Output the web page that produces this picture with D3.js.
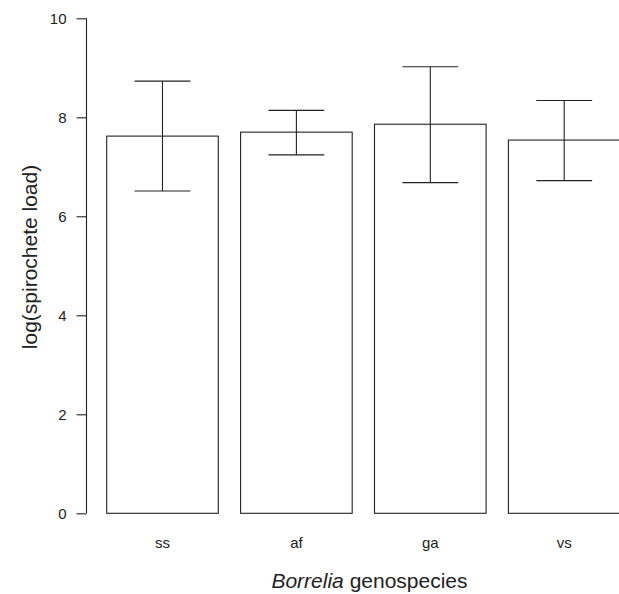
<!DOCTYPE html>
<html>
<head>
<meta charset="utf-8">
<script src="https://cdn.jsdelivr.net/npm/d3@7"></script>
<style>
  body { margin: 0; background: #fff; }
  svg text { font-family: "Liberation Sans", Arial, sans-serif; fill: #222; }
</style>
</head>
<body>
<div id="chart"></div>
<script>
// Spirochete load per Borrelia genospecies (mean with error bars)
const genospecies = ['ss', 'af', 'ga', 'vs'];
const meanLoad = [7.62, 7.70, 7.86, 7.54];
const errLow = [6.51, 7.24, 6.68, 6.72];
const errHigh = [8.73, 8.14, 9.02, 8.34];
const yTicks = [0, 2, 4, 6, 8, 10];

const width = 619, height = 594;

const svg = d3.select('#chart').append('svg')
  .attr('width', width)
  .attr('height', height);

// scales
const x = d3.scaleBand()
  .domain(genospecies)
  .range([106.7, 620])
  .paddingInner(1 / 6)
  .paddingOuter(0);

const y = d3.scaleLinear()
  .domain([0, 10])
  .range([513.3, 18.3]);

const data = genospecies.map((g, i) => ({
  g: g, mean: meanLoad[i], lo: errLow[i], hi: errHigh[i]
}));

// bars
svg.append('g')
  .selectAll('rect')
  .data(data)
  .join('rect')
  .attr('x', d => x(d.g))
  .attr('y', d => y(d.mean))
  .attr('width', x.bandwidth())
  .attr('height', d => y(0) - y(d.mean))
  .attr('fill', '#fff')
  .attr('stroke', '#222')
  .attr('stroke-width', 1.1);

// error bars
const err = svg.append('g')
  .attr('stroke', '#222')
  .attr('stroke-width', 1.1)
  .selectAll('g')
  .data(data)
  .join('g')
  .attr('transform', d => `translate(${x(d.g) + x.bandwidth() / 2},0)`);

const cap = x.bandwidth() / 4;

err.append('line')
  .attr('y1', d => y(d.lo))
  .attr('y2', d => y(d.hi));

err.append('line')
  .attr('x1', -cap).attr('x2', cap)
  .attr('y1', d => y(d.hi)).attr('y2', d => y(d.hi));

err.append('line')
  .attr('x1', -cap).attr('x2', cap)
  .attr('y1', d => y(d.lo)).attr('y2', d => y(d.lo));

// y axis
const yAxis = svg.append('g')
  .attr('transform', 'translate(86.5,0)')
  .call(d3.axisLeft(y).tickValues(yTicks).tickSize(10).tickPadding(10).tickFormat(d3.format('d')));

yAxis.select('.domain').attr('stroke', '#222').attr('stroke-width', 1.1)
  .attr('d', `M0,${y(0)}V${y(10)}`);
yAxis.selectAll('.tick line').attr('stroke', '#222').attr('stroke-width', 1.1);
yAxis.selectAll('.tick text')
  .style('font-size', '15px')
  .style('font-family', '"Liberation Sans", Arial, sans-serif')
  .attr('fill', '#222');

// category labels
svg.append('g')
  .selectAll('text')
  .data(genospecies)
  .join('text')
  .attr('x', d => x(d) + x.bandwidth() / 2)
  .attr('y', 548)
  .attr('text-anchor', 'middle')
  .style('font-size', '15px')
  .text(d => d);

// axis titles
const xTitle = svg.append('text')
  .attr('x', 369.5)
  .attr('y', 588)
  .attr('text-anchor', 'middle')
  .style('font-size', '21px');
xTitle.append('tspan').style('font-style', 'italic').text('Borrelia');
xTitle.append('tspan').text(' genospecies');

svg.append('text')
  .attr('transform', 'translate(37,257) rotate(-90)')
  .attr('text-anchor', 'middle')
  .style('font-size', '21px')
  .text('log(spirochete load)');
</script>
</body>
</html>
